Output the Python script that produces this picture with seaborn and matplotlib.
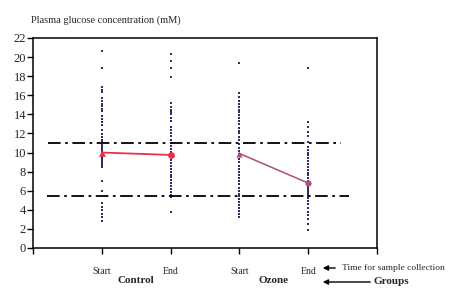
import matplotlib
matplotlib.use("Agg")
import matplotlib.pyplot as plt
import seaborn as sns
import pandas as pd

# ---- data ----
categories = ["Control Start", "Control End", "Ozone Start", "Ozone End"]
tick_labels = ["Start", "End", "Start", "End"]
groups = ["Control", "Ozone"]

control_start = [20.6, 18.9, 16.9, 16.6, 16.3, 15.7, 15.4, 15.1, 14.9, 14.6, 14.4,
                 13.8, 13.5, 13.2, 12.9, 12.4, 11.9, 11.6, 11.3, 11.1, 10.8, 10.6,
                 10.4, 10.2, 10.0, 9.8, 9.6, 9.4, 9.2, 9.0, 8.8, 8.6, 8.5, 7.0, 6.0,
                 4.7, 4.3, 4.0, 3.6, 3.3, 2.8]
control_end = [20.3, 19.6, 18.9, 17.9, 15.2, 14.8, 14.5, 14.3, 14.0, 13.6, 13.3,
               12.7, 12.4, 12.0, 11.7, 11.3, 11.0, 10.7, 10.4, 10.1, 9.8, 9.5, 9.2,
               8.9, 8.6, 8.3, 8.0, 7.7, 7.4, 7.1, 6.8, 6.5, 6.2, 5.9, 5.6, 5.3, 3.8]
ozone_start = [19.4, 16.2, 15.8, 15.4, 15.1, 14.8, 14.5, 14.2, 13.9, 13.6, 13.3,
               13.0, 12.6, 12.3, 12.0, 11.6, 11.3, 10.9, 10.5, 10.2, 9.9, 9.6, 9.3,
               9.0, 8.6, 8.3, 8.0, 7.7, 7.3, 7.0, 6.7, 6.3, 6.0, 5.7, 5.4, 5.1, 4.8,
               4.5, 4.2, 3.9, 3.6, 3.3]
ozone_end = [18.9, 13.2, 12.7, 12.2, 11.7, 11.1, 10.6, 10.3, 10.0, 9.7, 9.4, 9.1,
             8.8, 8.5, 8.2, 7.9, 7.6, 7.3, 7.0, 6.7, 6.5, 6.3, 6.1, 5.9, 5.7, 5.5,
             5.2, 4.9, 4.6, 4.2, 3.8, 3.5, 3.0, 2.5, 1.9]

control_means = [10.0, 9.75]
ozone_means = [9.9, 6.8]
upper_limit = 11.0
lower_limit = 5.5

# ---- build table ----
rows = []
for cat, vals in zip(categories, [control_start, control_end, ozone_start, ozone_end]):
    for v in vals:
        rows.append({"cat": cat, "glucose": v})
df = pd.DataFrame(rows)

sns.set_style("ticks")
plt.rcParams["font.family"] = ["Liberation Serif", "DejaVu Serif"]

fig = plt.figure(figsize=(4.68, 2.93), dpi=100)
ax = fig.add_axes([33 / 468, 1 - 248 / 293, (377 - 33) / 468, (248 - 38) / 293])

sns.stripplot(data=df, x="cat", y="glucose", order=categories, jitter=False,
              color="#2a2f66", size=1.6, marker="s", linewidth=0, ax=ax)

# reference lines
ls = (0, (7, 2.5, 1.5, 2.5))
ax.hlines(upper_limit, -0.78, 3.48, colors="black", linestyles=[ls], linewidth=1.3, zorder=4)
ax.hlines(lower_limit, -0.80, 3.59, colors="black", linestyles=[ls], linewidth=1.3, zorder=4)

# mean lines
red = "#e8304a"
mauve = "#b24f6e"
sns.lineplot(x=[0, 1], y=control_means, color=red, linewidth=1.3, ax=ax, zorder=5)
sns.lineplot(x=[2, 3], y=ozone_means, color=mauve, linewidth=1.1, ax=ax, zorder=5)
sns.scatterplot(x=[0], y=[control_means[0]], marker="^", color=red, s=24,
                linewidth=0, ax=ax, zorder=6)
sns.scatterplot(x=[1], y=[control_means[1]], marker="o", color=red, s=24,
                linewidth=0, ax=ax, zorder=6)
sns.scatterplot(x=[2], y=[ozone_means[0]], marker="^", color=mauve, s=20,
                linewidth=0, ax=ax, zorder=6)
sns.scatterplot(x=[3], y=[ozone_means[1]], marker="o", color=mauve, s=20,
                linewidth=0, ax=ax, zorder=6)

ax.set_xlim(-1, 4)
ax.set_ylim(0, 22)
ax.set_yticks(range(0, 23, 2))
ax.set_xticks([-1, 0, 1, 2, 3, 4])
ax.set_xticklabels([""] + tick_labels + [""], fontsize=7)
ax.tick_params(axis="x", length=4, width=1, pad=10, color="black")
ax.tick_params(axis="y", length=4, width=1, labelsize=9, pad=1, color="black")
for s in ax.spines.values():
    s.set_linewidth(1.1)
    s.set_color("black")
ax.set_xlabel("")
ax.set_ylabel("")

fig.text(31 / 468, 1 - 20 / 293, "Plasma glucose concentration (mM)", fontsize=7.5,
         ha="left", va="center")

# group labels
trans = ax.get_xaxis_transform()
ax.text(0.5, -0.155, groups[0], transform=trans, ha="center", va="center",
        fontsize=8, fontweight="bold")
ax.text(2.5, -0.155, groups[1], transform=trans, ha="center", va="center",
        fontsize=8, fontweight="bold")

# annotations
fig.text(342 / 468, 1 - 268 / 293, "Time for sample collection", fontsize=6.8,
         ha="left", va="center")
fig.patches.append(matplotlib.patches.FancyArrowPatch(
    (338 / 468, 1 - 268 / 293), (320 / 468, 1 - 268 / 293), transform=fig.transFigure,
    arrowstyle="-|>,head_length=3,head_width=1.5", color="black", linewidth=1.0))
fig.text(373 / 468, 1 - 281 / 293, "Groups", fontsize=8, fontweight="bold",
         ha="left", va="center")
fig.patches.append(matplotlib.patches.FancyArrowPatch(
    (373 / 468, 1 - 282 / 293), (320 / 468, 1 - 282 / 293), transform=fig.transFigure,
    arrowstyle="-|>,head_length=3,head_width=1.5", color="black", linewidth=1.0))

fig.savefig("out.png", dpi=100)
